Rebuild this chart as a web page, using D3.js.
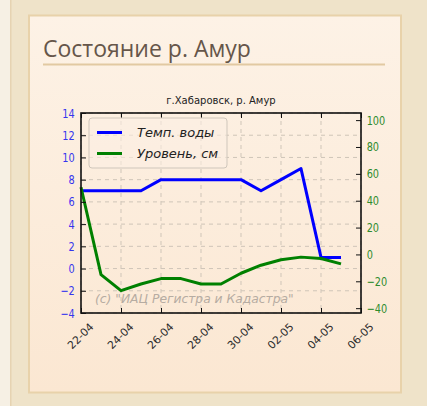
<!DOCTYPE html>
<html lang="ru">
<head>
<meta charset="UTF-8">
<title>Состояние р. Амур</title>
<script src="https://cdn.jsdelivr.net/npm/d3@7"></script>
<style>
  html, body { margin:0; padding:0; background:#efe3c9; }
  svg { display:block; }
  .grid line { stroke:#cfc5b8; stroke-width:1; stroke-dasharray:4,4; }
  .ax text { font-family:"DejaVu Sans", sans-serif; }
</style>
</head>
<body>
<div id="chart"></div>
<script>
// данные: даты, температура воды, уровень
var days = ["22-04","23-04","24-04","25-04","26-04","27-04","28-04","29-04","30-04","01-05","02-05","03-05","04-05","05-05"];
var tempWater = [7, 7, 7, 7, 8, 8, 8, 8, 8, 7, 8, 9, 1, 1];
var levelCm = [50, -15, -27, -22, -18, -18, -22, -22, -14, -8, -4, -2, -3, -7];
var xTickLabels = ["22-04","24-04","26-04","28-04","30-04","02-05","04-05","06-05"];
var leftTicks = [-4, -2, 0, 2, 4, 6, 8, 10, 12, 14];
var rightTicks = [-40, -20, 0, 20, 40, 60, 80, 100];
var seriesNames = ["Темп. воды", "Уровень, см"];

var W = 427, H = 406;
var svg = d3.select("#chart").append("svg").attr("width", W).attr("height", H);

// фон страницы и панель
var defs = svg.append("defs");
var grad = defs.append("linearGradient").attr("id","pg").attr("x1",0).attr("y1",0).attr("x2",0).attr("y2",1);
grad.append("stop").attr("offset","0%").attr("stop-color","#fdf2e6");
grad.append("stop").attr("offset","100%").attr("stop-color","#fbe7d2");

svg.append("rect").attr("width", W).attr("height", H).attr("fill", "#efe3c9");
svg.append("rect").attr("width", 10).attr("height", H).attr("fill", "#f6f0e4");
svg.append("rect").attr("x", 10).attr("width", 1.5).attr("height", H).attr("fill", "#e6d3b2");
svg.append("rect").attr("x", 29).attr("y", 15.5).attr("width", 372).attr("height", 377)
    .attr("fill", "url(#pg)").attr("stroke", "#e8d2aa").attr("stroke-width", 2);

svg.append("text").attr("x", 43).attr("y", 57)
    .attr("font-family", "Open Sans, sans-serif").attr("font-size", 23)
    .attr("fill", "#66564a").text("Состояние р. Амур");
svg.append("line").attr("x1", 43).attr("x2", 385).attr("y1", 64.5).attr("y2", 64.5)
    .attr("stroke", "#e2c9a2").attr("stroke-width", 2);

// график
var L = 81, R = 361, T = 113, B = 313;
var parse = d3.timeParse("%d-%m");
var x = d3.scaleTime().domain([parse("22-04"), parse("06-05")]).range([L, R]);
var yL = d3.scaleLinear().domain([-4, 14]).range([B, T]);
var yR = d3.scaleLinear().domain([-43.6, 105.3]).range([B, T]);
var fmt = function(d){ return d < 0 ? "\u2212" + Math.abs(d) : String(d); };

var g = svg.append("g");

// сетка
var grid = g.append("g").attr("class","grid");
grid.selectAll(".gx").data(xTickLabels).enter().append("line")
    .attr("x1", d => x(parse(d))).attr("x2", d => x(parse(d))).attr("y1", T).attr("y2", B);
grid.selectAll(".gy").data(leftTicks).enter().append("line")
    .attr("x1", L).attr("x2", R).attr("y1", d => yL(d)).attr("y2", d => yL(d));

// водяной знак
g.append("text").attr("x", 95).attr("y", 303)
    .attr("font-family", "DejaVu Sans, sans-serif").attr("font-style", "italic")
    .attr("font-size", 12.3).attr("fill", "#b6aca2")
    .text("(c) \"ИАЦ Регистра и Кадастра\"");

// линии
var lineT = d3.line().x((d, i) => x(parse(days[i]))).y(d => yL(d));
var lineL = d3.line().x((d, i) => x(parse(days[i]))).y(d => yR(d));
g.append("path").datum(tempWater).attr("d", lineT).attr("fill","none")
    .attr("stroke","#0000ff").attr("stroke-width",3).attr("stroke-linejoin","round");
g.append("path").datum(levelCm).attr("d", lineL).attr("fill","none")
    .attr("stroke","#008000").attr("stroke-width",3).attr("stroke-linejoin","round");

// оси
var axL = g.append("g").attr("class","ax").attr("transform","translate(" + L + ",0)")
    .call(d3.axisLeft(yL).tickValues(leftTicks).tickSizeInner(-5).tickSizeOuter(0).tickPadding(8).tickFormat(fmt));
axL.selectAll("text").attr("fill","#3535ee").attr("font-size",12.5).attr("transform","scale(0.78,1)");

var axR = g.append("g").attr("class","ax").attr("transform","translate(" + R + ",0)")
    .call(d3.axisRight(yR).tickValues(rightTicks).tickSizeInner(-5).tickSizeOuter(0).tickPadding(7.3).tickFormat(fmt));
axR.selectAll("text").attr("fill","#2e8b2e").attr("font-size",12.5).attr("transform","scale(0.78,1)");

var axB = g.append("g").attr("class","ax").attr("transform","translate(0," + B + ")")
    .call(d3.axisBottom(x).tickValues(xTickLabels.map(parse)).tickSizeInner(-5).tickSizeOuter(0).tickFormat(d3.timeFormat("%d-%m")));
axB.selectAll("text").attr("fill","#2a2a2a").attr("font-size",10.8)
    .attr("text-anchor","middle").attr("y", 0).attr("dy", "0.35em")
    .attr("transform","translate(-1,23) rotate(-45)");

var axT = g.append("g").attr("class","ax").attr("transform","translate(0," + T + ")")
    .call(d3.axisTop(x).tickValues(xTickLabels.map(parse)).tickSizeInner(-5).tickSizeOuter(0).tickFormat(""));

g.selectAll(".ax .domain").remove();
g.selectAll(".ax line").attr("stroke","#111");

// рамка
g.append("rect").attr("x", L).attr("y", T).attr("width", R - L).attr("height", B - T)
    .attr("fill","none").attr("stroke","#111").attr("stroke-width",1.6);

// заголовок графика
g.append("text").attr("x", 221).attr("y", 104).attr("text-anchor","middle")
    .attr("font-family","DejaVu Sans, sans-serif").attr("font-size",10).attr("fill","#222")
    .text("г.Хабаровск, р. Амур");

// легенда
var leg = g.append("g");
leg.append("rect").attr("x", 89).attr("y", 118).attr("width", 138).attr("height", 50).attr("rx", 3)
    .attr("fill","#fbefe2").attr("fill-opacity",0.6).attr("stroke","#cfc6bb");
var legColors = ["#0000ff", "#008000"];
seriesNames.forEach(function(name, i){
  var yy = 132.5 + i * 21;
  leg.append("line").attr("x1", 97).attr("x2", 122).attr("y1", yy).attr("y2", yy)
     .attr("stroke", legColors[i]).attr("stroke-width", 3);
  leg.append("text").attr("x", 137).attr("y", yy + 4.5)
     .attr("font-family","DejaVu Sans, sans-serif").attr("font-style","italic")
     .attr("font-size",13).attr("fill","#222").text(name);
});
</script>
</body>
</html>
